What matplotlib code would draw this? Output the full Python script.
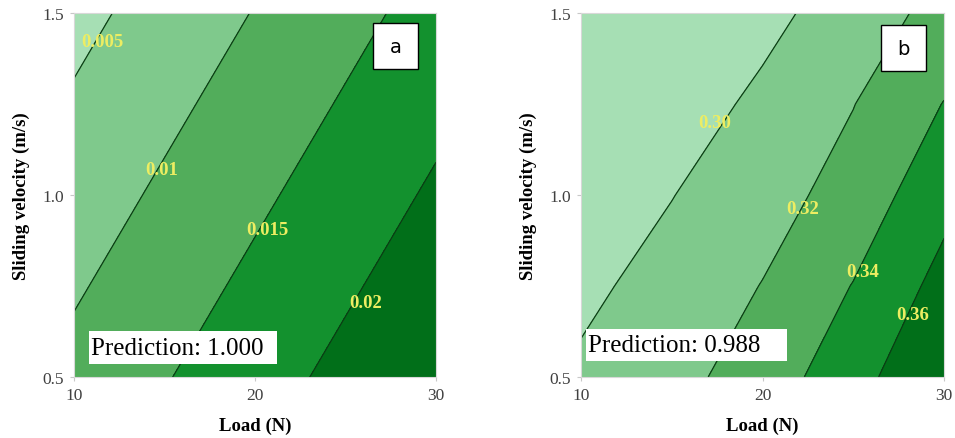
import numpy as np
import matplotlib
matplotlib.use('Agg')
from matplotlib import pyplot as plt
from matplotlib.patches import Rectangle

# load (N) and sliding velocity (m/s) grid points
load_a = [10, 20, 30]
vel_a = [0.5, 1.0, 1.5]
# wear rate surface, rows = velocity, cols = load
wear_a = [[0.0114, 0.0180, 0.0246],
          [0.0075, 0.0141, 0.0207],
          [0.0036, 0.0102, 0.0168]]
levels_a = [0.0, 0.005, 0.01, 0.015, 0.02, 0.03]
labels_a = ['0.005', '0.01', '0.015', '0.02']
labpos_a = [(11.55, 1.423), (14.86, 1.071), (20.7, 0.904), (26.1, 0.706)]

load_b = [10, 15, 20, 25, 30]
vel_b = [0.5, 0.75, 1.0, 1.25, 1.5]
# friction coefficient surface
cof_b = [[0.3030, 0.3133, 0.3300, 0.3517, 0.3814],
         [0.2959, 0.3070, 0.3206, 0.3407, 0.3665],
         [0.2930, 0.2995, 0.3120, 0.3277, 0.3540],
         [0.2880, 0.2898, 0.3043, 0.3195, 0.3406],
         [0.2850, 0.2890, 0.2941, 0.3100, 0.3261]]
levels_b = [0.28, 0.30, 0.32, 0.34, 0.36, 0.40]
labels_b = ['0.30', '0.32', '0.34', '0.36']
labpos_b = [(17.38, 1.20), (22.2, 0.964), (25.5, 0.79), (28.3, 0.673)]

greens = ['#a6dfb4', '#7fc98c', '#52ad5b', '#13912e', '#016f19']
serif = 'Liberation Serif'

fig = plt.figure(figsize=(9.55, 4.39), dpi=100)
ax1 = fig.add_axes([74/955, 61/439, 362/955, 364/439])
ax2 = fig.add_axes([581/955, 61/439, 363/955, 364/439])

# (axes, x, y, z, levels, label texts, label spots, tag, tag box, prediction, prediction box)
panels = [(ax1, load_a, vel_a, wear_a, levels_a, labels_a, labpos_a,
           'a', (0.826, 0.846), 'Prediction: 1.000', (10.83, 0.536, 10.37, 0.090)),
          (ax2, load_b, vel_b, cof_b, levels_b, labels_b, labpos_b,
           'b', (0.826, 0.840), 'Prediction: 0.988', (10.28, 0.544, 11.07, 0.088))]

for ax, L, V, Z, lev, labs, pos, tag, tpos, pred, pbox in panels:
    X, Y = np.meshgrid(L, V)
    Z = np.array(Z)
    ax.contourf(X, Y, Z, levels=lev, colors=greens)
    ax.contour(X, Y, Z, levels=lev[1:-1], colors='#0b3d14', linewidths=0.9)
    for t, (x, y) in zip(labs, pos):
        ax.text(x, y, t, color='#eded62', fontsize=13.5, fontweight='bold',
                family=serif, ha='center', va='center')
    ax.set_xlim(10, 30)
    ax.set_ylim(0.5, 1.5)
    ax.set_xticks([10, 20, 30])
    ax.set_yticks([0.5, 1.0, 1.5])
    ax.set_yticklabels(['0.5', '1.0', '1.5'])
    for lbl in ax.get_xticklabels() + ax.get_yticklabels():
        lbl.set_family(serif)
        lbl.set_fontsize(12.5)
        lbl.set_color('#404040')
    ax.tick_params(length=3, color='#c8c8c8', width=0.8, pad=4)
    for s in ax.spines.values():
        s.set_color('#d8d8d8')
        s.set_linewidth(0.8)
    ax.set_xlabel('Load (N)', family=serif, fontweight='bold', fontsize=13.5, labelpad=10)
    ax.set_ylabel('Sliding velocity (m/s)', family=serif, fontweight='bold', fontsize=13.5, labelpad=9)

    # prediction box
    ax.add_patch(Rectangle((pbox[0], pbox[1]), pbox[2], pbox[3], fc='white', ec='none', zorder=3))
    ax.text(pbox[0] + 0.1, pbox[1] + pbox[3] / 2, pred, family=serif, fontsize=18,
            color='black', ha='left', va='center', zorder=4)

    # panel tag
    ax.add_patch(Rectangle(tpos, 0.124, 0.126, transform=ax.transAxes,
                           fc='white', ec='black', lw=1.0, zorder=3))
    ax.text(tpos[0] + 0.062, tpos[1] + 0.063, tag, transform=ax.transAxes, fontsize=14,
            family='DejaVu Sans', ha='center', va='center', zorder=4)

fig.savefig('out.png', dpi=100)
